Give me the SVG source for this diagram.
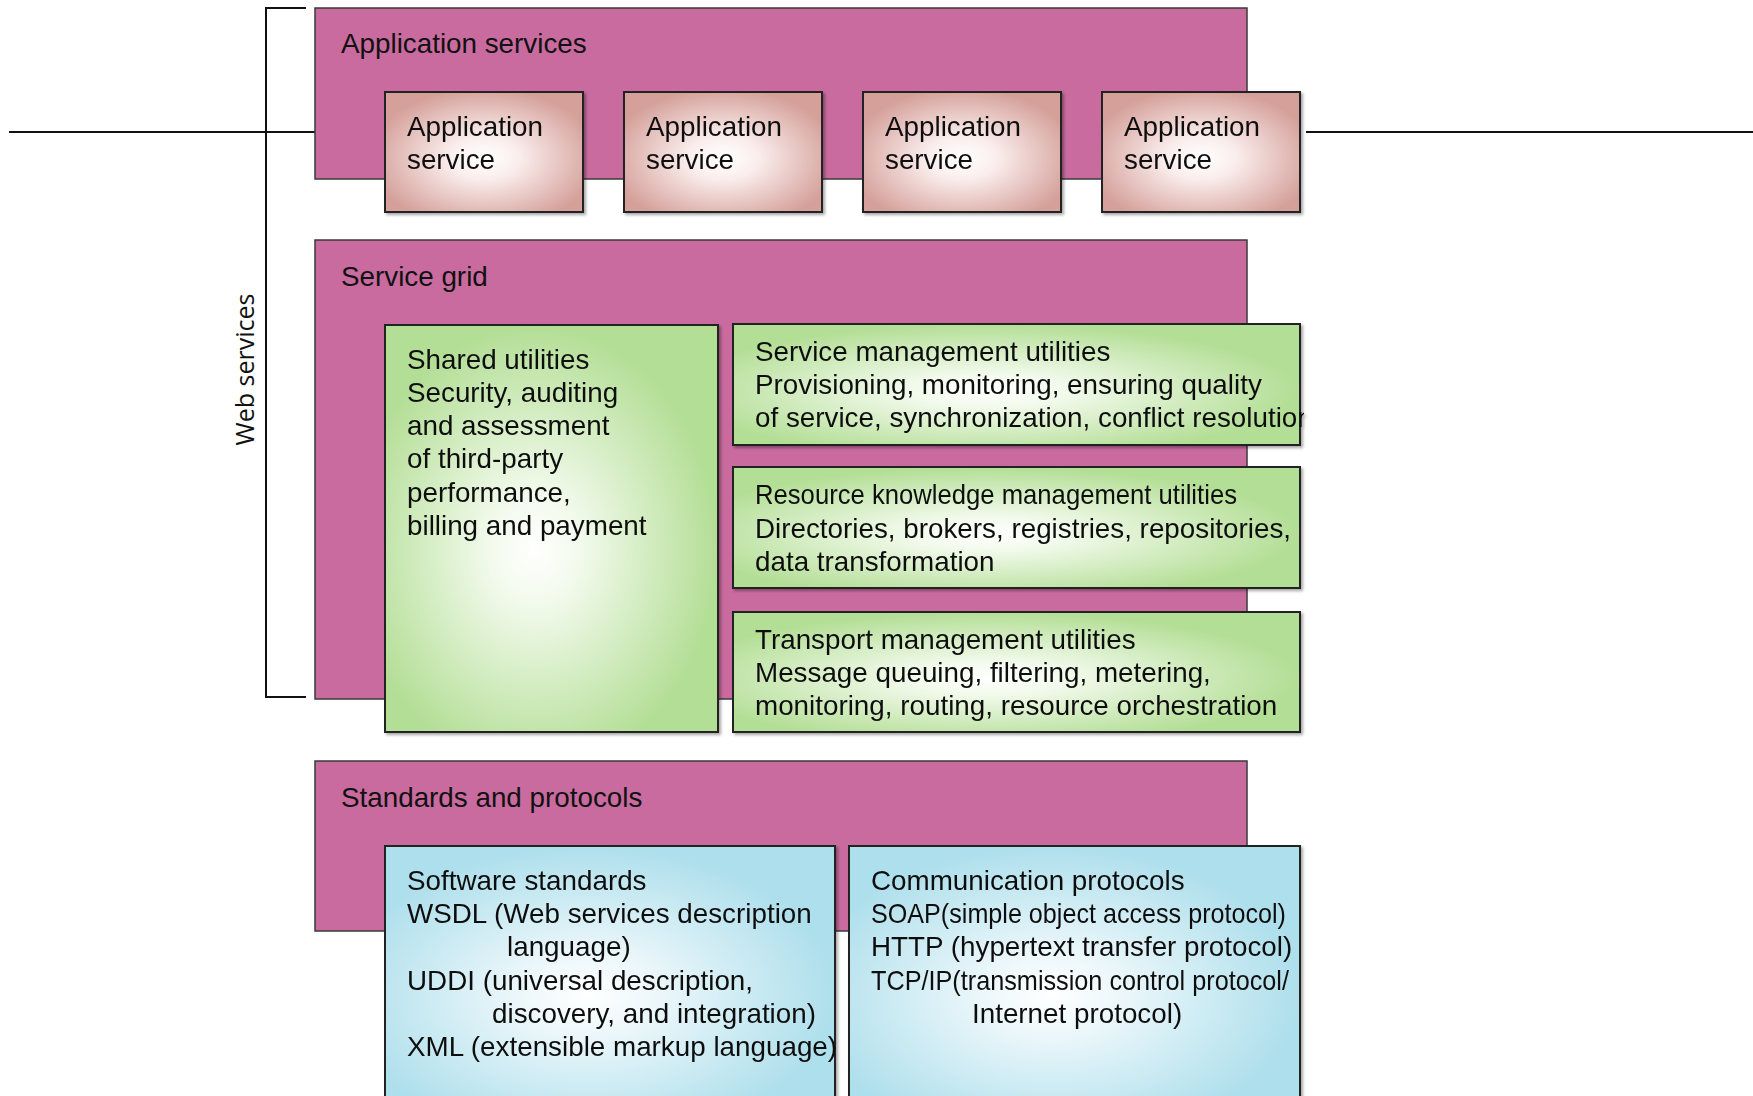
<svg xmlns="http://www.w3.org/2000/svg" width="1753" height="1096" viewBox="0 0 1753 1096">
<style>
.layer{fill:#C96B9F;stroke:#3a3a3a;stroke-width:1.5}
.box{stroke:#222;stroke-width:2}
.t{font-family:"Liberation Sans",Arial,sans-serif;font-size:27.8px;fill:#111}
.conn{stroke:#111;stroke-width:2;fill:none}
.ws{font-family:"Open Sans","Noto Sans",sans-serif;font-size:25px;fill:#111}
</style>
<defs>
<radialGradient id="gPink" cx="0.5" cy="0.55" r="0.58">
<stop offset="0" stop-color="#ffffff"/>
<stop offset="0.3" stop-color="#faeeed"/>
<stop offset="1" stop-color="#d5a09a"/>
</radialGradient>
<radialGradient id="gGreen" cx="0.45" cy="0.55" r="0.55">
<stop offset="0" stop-color="#ffffff"/>
<stop offset="0.25" stop-color="#f2faec"/>
<stop offset="1" stop-color="#b3de95"/>
</radialGradient>
<radialGradient id="gBlue" cx="0.45" cy="0.55" r="0.55">
<stop offset="0" stop-color="#ffffff"/>
<stop offset="0.25" stop-color="#eef8fb"/>
<stop offset="1" stop-color="#aedfec"/>
</radialGradient>
<filter id="sh" x="-5%" y="-5%" width="112%" height="115%">
<feDropShadow dx="2" dy="2" stdDeviation="1.5" flood-color="#000" flood-opacity="0.35"/>
</filter>
<clipPath id="clipSM"><rect x="733" y="324" width="571" height="121"/></clipPath>
</defs>

<g id="connectors">
<path class="conn" d="M306,8 H266 V697 H306"/>
<line class="conn" x1="9" y1="132" x2="315" y2="132"/>
<line class="conn" x1="1306" y1="132" x2="1753" y2="132"/>
</g>

<g id="web-services-label">
<text class="ws" x="254" y="369.5" text-anchor="middle" transform="rotate(-90 254 369.5)">Web services</text>
</g>

<g id="application-services">
<rect class="layer" x="315" y="8" width="932" height="171"/>
<text class="t" x="341" y="53">Application services</text>
</g>

<g id="app-service-1" filter="url(#sh)">
<rect class="box" x="385" y="92" width="198" height="120" fill="url(#gPink)"/>
<text class="t" x="407" y="136">Application</text>
<text class="t" x="407" y="169">service</text>
</g>
<g id="app-service-2" filter="url(#sh)">
<rect class="box" x="624" y="92" width="198" height="120" fill="url(#gPink)"/>
<text class="t" x="646" y="136">Application</text>
<text class="t" x="646" y="169">service</text>
</g>
<g id="app-service-3" filter="url(#sh)">
<rect class="box" x="863" y="92" width="198" height="120" fill="url(#gPink)"/>
<text class="t" x="885" y="136">Application</text>
<text class="t" x="885" y="169">service</text>
</g>
<g id="app-service-4" filter="url(#sh)">
<rect class="box" x="1102" y="92" width="198" height="120" fill="url(#gPink)"/>
<text class="t" x="1124" y="136">Application</text>
<text class="t" x="1124" y="169">service</text>
</g>

<g id="service-grid">
<rect class="layer" x="315" y="240" width="932" height="459"/>
<text class="t" x="341" y="286">Service grid</text>
</g>

<g id="shared-utilities" filter="url(#sh)">
<rect class="box" x="385" y="325" width="333" height="407" fill="url(#gGreen)"/>
<text class="t" x="407" y="369">Shared utilities</text>
<text class="t" x="407" y="402">Security, auditing</text>
<text class="t" x="407" y="435">and assessment</text>
<text class="t" x="407" y="468">of third-party</text>
<text class="t" x="407" y="502">performance,</text>
<text class="t" x="407" y="535">billing and payment</text>
</g>

<g id="service-management" filter="url(#sh)">
<rect class="box" x="733" y="324" width="567" height="121" fill="url(#gGreen)"/>
<g clip-path="url(#clipSM)">
<text class="t" x="755" y="361">Service management utilities</text>
<text class="t" x="755" y="394">Provisioning, monitoring, ensuring quality</text>
<text class="t" x="755" y="427">of service, synchronization, conflict resolution</text>
</g>
</g>

<g id="resource-knowledge" filter="url(#sh)">
<rect class="box" x="733" y="467" width="567" height="121" fill="url(#gGreen)"/>
<text class="t" x="755" y="504" textLength="482" lengthAdjust="spacingAndGlyphs">Resource knowledge management utilities</text>
<text class="t" x="755" y="538">Directories, brokers, registries, repositories,</text>
<text class="t" x="755" y="571">data transformation</text>
</g>

<g id="transport-management" filter="url(#sh)">
<rect class="box" x="733" y="612" width="567" height="120" fill="url(#gGreen)"/>
<text class="t" x="755" y="649">Transport management utilities</text>
<text class="t" x="755" y="682">Message queuing, filtering, metering,</text>
<text class="t" x="755" y="715">monitoring, routing, resource orchestration</text>
</g>

<g id="standards-and-protocols">
<rect class="layer" x="315" y="761" width="932" height="170"/>
<text class="t" x="341" y="807">Standards and protocols</text>
</g>

<g id="software-standards" filter="url(#sh)">
<rect class="box" x="385" y="846" width="450" height="270" fill="url(#gBlue)"/>
<text class="t" x="407" y="890">Software standards</text>
<text class="t" x="407" y="923">WSDL (Web services description</text>
<text class="t" x="507" y="956">language)</text>
<text class="t" x="407" y="990">UDDI (universal description,</text>
<text class="t" x="492" y="1023">discovery, and integration)</text>
<text class="t" x="407" y="1056">XML (extensible markup language)</text>
</g>

<g id="communication-protocols" filter="url(#sh)">
<rect class="box" x="849" y="846" width="451" height="270" fill="url(#gBlue)"/>
<text class="t" x="871" y="890">Communication protocols</text>
<text class="t" x="871" y="923" textLength="415" lengthAdjust="spacingAndGlyphs">SOAP(simple object access protocol)</text>
<text class="t" x="871" y="956">HTTP (hypertext transfer protocol)</text>
<text class="t" x="871" y="990" textLength="418" lengthAdjust="spacingAndGlyphs">TCP/IP(transmission control protocol/</text>
<text class="t" x="972" y="1023">Internet protocol)</text>
</g>
</svg>
